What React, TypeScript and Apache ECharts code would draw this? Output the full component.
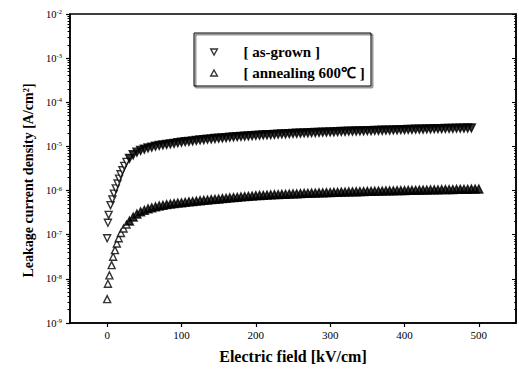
import React, { useEffect, useRef } from 'react';
import * as echarts from 'echarts';

// Electric field ticks [kV/cm]
const xTickValues = [0, 100, 200, 300, 400, 500];
// Current density ticks [A/cm^2] (decades)
const yTickValues = [1e-9, 1e-8, 1e-7, 1e-6, 1e-5, 1e-4, 1e-3, 1e-2];

const seriesNames = ['[ as-grown ]', '[ annealing 600℃ ]'];

// [electric field kV/cm, log10 of leakage current density A/cm^2]
const asGrown: [number, number][] = [
  [0, -7.08], [1, -6.73], [2, -6.55], [4.5, -6.33], [7, -6.2], [9, -6.07], [11.5, -5.95],
  [14, -5.84], [16, -5.73], [18, -5.63], [20.5, -5.54], [23, -5.44], [26, -5.35],
  [30, -5.27], [35, -5.19], [40, -5.13], [45, -5.09], [50, -5.06], [55, -5.035], [60, -5.015],
  [65, -4.995], [70, -4.98], [75, -4.967], [80, -4.955], [85, -4.942], [90, -4.93], [95, -4.917],
  [100, -4.905], [105, -4.895], [110, -4.885], [115, -4.875], [120, -4.865], [125, -4.855],
  [130, -4.845], [135, -4.838], [140, -4.83], [145, -4.822], [150, -4.815], [155, -4.808],
  [160, -4.8], [165, -4.793], [170, -4.787], [175, -4.781], [180, -4.775], [185, -4.769],
  [190, -4.763], [195, -4.757], [200, -4.752], [205, -4.747], [210, -4.742], [215, -4.737],
  [220, -4.732], [225, -4.728], [230, -4.723], [235, -4.719], [240, -4.715], [245, -4.711],
  [250, -4.707], [255, -4.703], [260, -4.7], [265, -4.696], [270, -4.692], [275, -4.689],
  [280, -4.686], [285, -4.682], [290, -4.679], [295, -4.676], [300, -4.673], [305, -4.67],
  [310, -4.666], [315, -4.663], [320, -4.66], [325, -4.657], [330, -4.655], [335, -4.652],
  [340, -4.65], [345, -4.647], [350, -4.645], [355, -4.642], [360, -4.64], [365, -4.637],
  [370, -4.635], [375, -4.632], [380, -4.63], [385, -4.627], [390, -4.625], [395, -4.622],
  [400, -4.62], [405, -4.617], [410, -4.615], [415, -4.612], [420, -4.61], [425, -4.607],
  [430, -4.605], [435, -4.603], [440, -4.6], [445, -4.598], [450, -4.597], [455, -4.595],
  [460, -4.593], [465, -4.591], [470, -4.589], [475, -4.587], [480, -4.586], [485, -4.584],
  [490, -4.582],
];

const annealed: [number, number][] = [
  [0, -8.46], [1, -8.11], [3, -7.92], [6, -7.69], [8, -7.5], [10.5, -7.35], [13, -7.2],
  [15.5, -7.08], [18.5, -6.96], [22, -6.86], [26, -6.77],
  [30, -6.69], [35, -6.6], [40, -6.53], [45, -6.48], [50, -6.445], [55, -6.415], [60, -6.39],
  [65, -6.367], [70, -6.348], [75, -6.332], [80, -6.318], [85, -6.305], [90, -6.294],
  [95, -6.284], [100, -6.275], [105, -6.265], [110, -6.256], [115, -6.247], [120, -6.238],
  [125, -6.229], [130, -6.221], [135, -6.213], [140, -6.205], [145, -6.197], [150, -6.19],
  [155, -6.182], [160, -6.174], [165, -6.166], [170, -6.158], [175, -6.15], [180, -6.143],
  [185, -6.136], [190, -6.129], [195, -6.122], [200, -6.115], [205, -6.11], [210, -6.105],
  [215, -6.1], [220, -6.096], [225, -6.092], [230, -6.088], [235, -6.085], [240, -6.082],
  [245, -6.078], [250, -6.075], [255, -6.071], [260, -6.068], [265, -6.064], [270, -6.061],
  [275, -6.058], [280, -6.055], [285, -6.052], [290, -6.049], [295, -6.046], [300, -6.043],
  [305, -6.04], [310, -6.038], [315, -6.035], [320, -6.032], [325, -6.03], [330, -6.027],
  [335, -6.025], [340, -6.022], [345, -6.02], [350, -6.018], [355, -6.016], [360, -6.014],
  [365, -6.012], [370, -6.01], [375, -6.008], [380, -6.006], [385, -6.004], [390, -6.002],
  [395, -6.0], [400, -5.998], [405, -5.996], [410, -5.994], [415, -5.992], [420, -5.99],
  [425, -5.988], [430, -5.986], [435, -5.985], [440, -5.983], [445, -5.981], [450, -5.979],
  [455, -5.978], [460, -5.976], [465, -5.975], [470, -5.973], [475, -5.972], [480, -5.97],
  [485, -5.969], [490, -5.967], [495, -5.966], [500, -5.965],
];

const DOWN_TRI = 'path://M0,0L10,0L5,9Z';
const UP_TRI = 'path://M5,0L10,9L0,9Z';
const SERIF = '"Liberation Serif", "Times New Roman", serif';
// beyond this field the markers overlap into a solid band in the reference
const DENSE_FROM = 28;

function toPoints(rows: [number, number][]) {
  return rows.map(([x, lg]) =>
    x >= DENSE_FROM
      ? { value: [x, Math.pow(10, lg)], itemStyle: { color: '#000' } }
      : { value: [x, Math.pow(10, lg)] }
  );
}

export default function App() {
  const ref = useRef<HTMLDivElement>(null);
  useEffect(() => {
    if (!ref.current) return;
    const chart = echarts.init(ref.current, null, { renderer: 'svg' });
    const labelFmt = (v: number) => `{a|10}{b|${Math.round(Math.log10(v))}}`;
    const markerStyle = { color: '#fff', borderColor: '#000', borderWidth: 1.4 };
    const markerSize = (val: number[]) => (val[0] >= DENSE_FROM ? [8, 8] : [7, 7]);
    chart.setOption({
      animation: false,
      backgroundColor: '#fff',
      grid: {
        left: 70, right: 3, top: 14, bottom: 50,
        show: true, borderColor: '#000', borderWidth: 1.5, backgroundColor: 'transparent',
      },
      legend: {
        orient: 'vertical',
        left: 210,
        top: 44,
        itemWidth: 7,
        itemHeight: 6,
        itemGap: 5,
        padding: 0,
        data: [
          { name: seriesNames[0], icon: DOWN_TRI, itemStyle: { color: '#fff', borderColor: '#000', borderWidth: 1.4 } },
          { name: seriesNames[1], icon: UP_TRI, itemStyle: { color: '#fff', borderColor: '#000', borderWidth: 1.4 } },
        ],
        textStyle: {
          fontFamily: SERIF, fontWeight: 'bold', fontSize: 15, color: '#000',
          padding: [0, 0, 0, 21], lineHeight: 16,
        },
      },
      graphic: [
        {
          type: 'rect',
          shape: { x: 194, y: 33, width: 177, height: 53 },
          style: { fill: 'transparent', stroke: '#000', lineWidth: 1, shadowColor: 'rgba(0,0,0,0.8)', shadowOffsetX: 1.5, shadowOffsetY: 1.5, shadowBlur: 0 },
          silent: true,
          z: 0,
        },
      ],
      xAxis: {
        type: 'value',
        min: -50,
        max: 550,
        name: 'Electric field [kV/cm]',
        nameLocation: 'middle',
        nameGap: 25,
        nameTextStyle: { fontFamily: SERIF, fontWeight: 'bold', fontSize: 16, color: '#000' },
        axisLine: { show: true, onZero: false, lineStyle: { color: '#000', width: 1.5 } },
        axisTick: { show: true, inside: false, length: 4, lineStyle: { color: '#000', width: 1.2 }, customValues: xTickValues },
        axisLabel: { fontFamily: SERIF, fontSize: 11, color: '#000', margin: 6, customValues: xTickValues },
        splitLine: { show: false },
      },
      yAxis: [
        {
          type: 'log',
          logBase: 10,
          min: 1e-9,
          max: 1e-2,
          name: 'Leakage current density [A/cm²]',
          nameLocation: 'middle',
          nameGap: 33,
          nameTextStyle: { fontFamily: SERIF, fontWeight: 'bold', fontSize: 14, color: '#000', padding: [0, 24, 0, 0] },
          axisLine: { show: true, onZero: false, lineStyle: { color: '#000', width: 1.5 } },
          axisTick: { show: true, inside: false, length: 4, lineStyle: { color: '#000', width: 1.2 }, customValues: yTickValues },
          minorTick: { show: true, splitNumber: 9, length: 2.5, lineStyle: { color: '#000', width: 1 } },
          axisLabel: {
            customValues: yTickValues,
            formatter: labelFmt,
            margin: 8,
            rich: {
              a: { fontFamily: SERIF, fontSize: 10.5, color: '#000', lineHeight: 12 },
              b: { fontFamily: SERIF, fontSize: 6.5, color: '#000', verticalAlign: 'top', lineHeight: 12 },
            },
          },
          splitLine: { show: false },
        },
        {
          type: 'log',
          logBase: 10,
          min: 1e-9,
          max: 1e-2,
          position: 'right',
          axisLine: { show: true, onZero: false, lineStyle: { color: '#000', width: 1.5 } },
          axisTick: { show: true, inside: true, length: 4, lineStyle: { color: '#000', width: 1 }, customValues: yTickValues },
          minorTick: { show: true, splitNumber: 9, length: 2, lineStyle: { color: '#000', width: 0.8 } },
          axisLabel: { show: false },
          splitLine: { show: false },
        },
      ],
      series: [
        {
          name: seriesNames[0],
          type: 'scatter',
          symbol: DOWN_TRI,
          symbolSize: markerSize,
          itemStyle: markerStyle,
          data: toPoints(asGrown),
        },
        {
          name: seriesNames[1],
          type: 'scatter',
          symbol: UP_TRI,
          symbolSize: markerSize,
          itemStyle: markerStyle,
          data: toPoints(annealed),
        },
      ],
    });
    return () => chart.dispose();
  }, []);
  return <div ref={ref} style={{ position: 'fixed', left: 0, top: 0, width: 519, height: 373 }} />;
}
